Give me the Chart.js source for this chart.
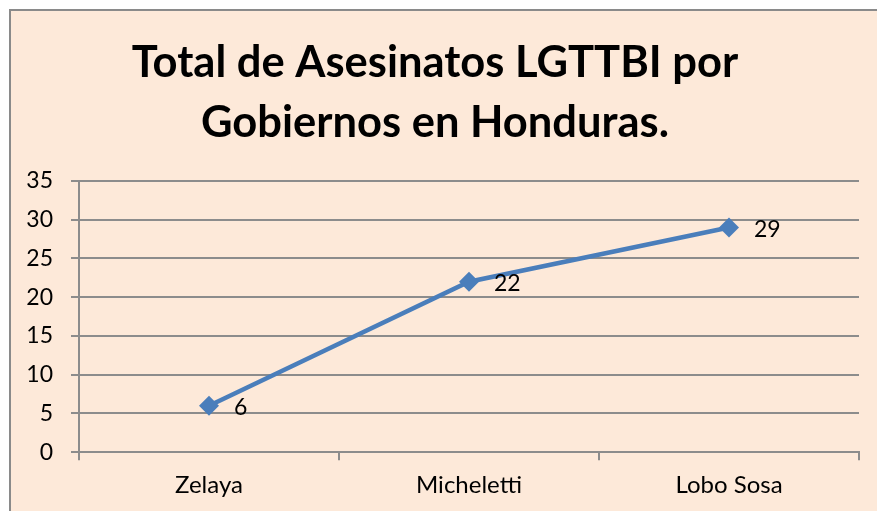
<!DOCTYPE html>
<html>
<head>
<meta charset="utf-8">
<script src="https://cdn.jsdelivr.net/npm/chart.js@4"></script>
<style>
  html, body { margin: 0; padding: 0; background: #fff; overflow: hidden; }
  #box {
    position: absolute; left: 9px; top: 9px;
    width: 880px; height: 520px;
    border: 2px solid #8a8a8a;
    background: #fde9d9;
  }
  #chart { display: block; }
</style>
</head>
<body>
<div id="box"><canvas id="chart" width="866" height="500"></canvas></div>
<script>
// data
const categories = ['Zelaya', 'Micheletti', 'Lobo Sosa'];
const asesinatos = [6, 22, 29];
const yMin = 0, yMax = 35, yStep = 5;
const titleLines = ['Total de Asesinatos LGTTBI por', 'Gobiernos en Honduras.'];

const FONT = 'Lato, "Liberation Sans", sans-serif';
const GRID = '#8c8c8c';
const BLUE = '#4a7ebb';

// value labels to the right of each point
const valueLabels = {
    id: 'valueLabels',
    afterDatasetsDraw(chart) {
        const ctx = chart.ctx;
        const meta = chart.getDatasetMeta(0);
        ctx.save();
        ctx.font = '23px ' + FONT;
        ctx.fillStyle = '#000';
        ctx.textAlign = 'left';
        ctx.textBaseline = 'middle';
        meta.data.forEach((pt, i) => {
            ctx.fillText(String(asesinatos[i]), pt.x + 25, pt.y + 2);
        });
        ctx.restore();
    }
};

const ctx = document.getElementById('chart').getContext('2d');
new Chart(ctx, {
    type: 'line',
    data: {
        labels: categories,
        datasets: [{
            data: asesinatos,
            borderColor: BLUE,
            borderWidth: 4.5,
            backgroundColor: BLUE,
            pointStyle: 'rectRot',
            pointRadius: 10,
            pointHoverRadius: 10,
            pointBackgroundColor: BLUE,
            pointBorderColor: BLUE,
            pointBorderWidth: 0,
            tension: 0
        }]
    },
    options: {
        responsive: false,
        animation: false,
        layout: { padding: { left: 0, right: 18, top: 0, bottom: 0 } },
        plugins: {
            legend: { display: false },
            tooltip: { enabled: false },
            title: {
                display: true,
                text: titleLines,
                color: '#000',
                font: { family: FONT, size: 43.5, weight: 'bold', lineHeight: 60 / 43.5 },
                padding: { top: 22, bottom: 28 }
            }
        },
        scales: {
            x: {
                offset: true,
                grid: {
                    offset: true,
                    drawOnChartArea: false,
                    drawTicks: true,
                    tickLength: 8,
                    color: GRID,
                    lineWidth: 2
                },
                border: { color: GRID, width: 2 },
                ticks: {
                    color: '#000',
                    padding: 11,
                    font: { family: FONT, size: 24 }
                }
            },
            y: {
                min: yMin,
                max: yMax,
                afterFit(scale) { scale.width = 68; },
                grid: {
                    color: GRID,
                    lineWidth: 2,
                    drawTicks: true,
                    tickLength: 8
                },
                border: { color: GRID, width: 2 },
                ticks: {
                    stepSize: yStep,
                    color: '#000',
                    padding: 18,
                    font: { family: FONT, size: 23 }
                }
            }
        }
    },
    plugins: [valueLabels]
});
</script>
</body>
</html>
